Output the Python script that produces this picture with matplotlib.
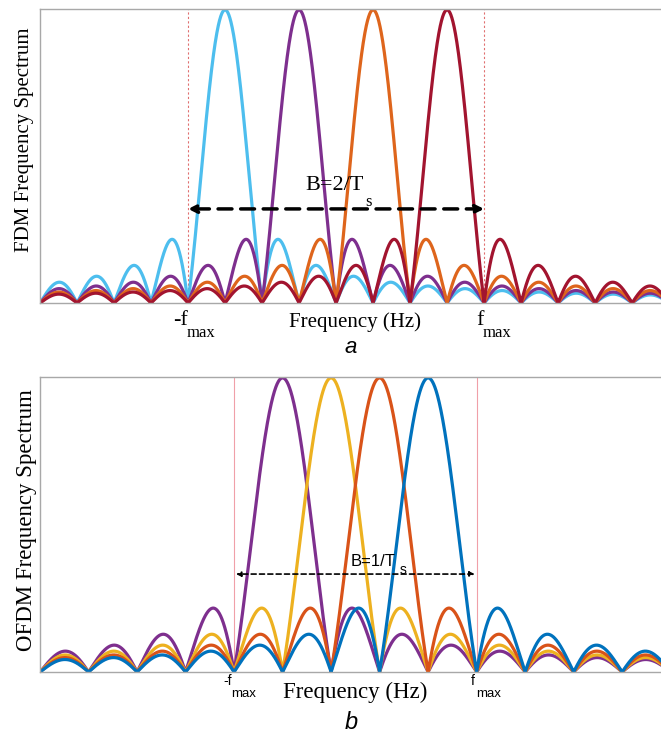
import numpy as np
import matplotlib
matplotlib.use("Agg")
from matplotlib import pyplot as plt
from matplotlib import transforms

# carrier centre frequencies, in units of 1/Ts
fdm_centers = [-3, -1, 1, 3]
fdm_colors = ['#4DBEEE', '#7E2F8E', '#DE651C', '#A2142F']
fdm_fmax = 4
fdm_xlim = (-8, 8.78)

ofdm_centers = [-1.5, -0.5, 0.5, 1.5]
ofdm_colors = ['#7E2F8E', '#EDB120', '#D95319', '#0072BD']
ofdm_fmax = 2.5
ofdm_xlim = (-6.5, 6.3)

W, H = 661, 733
fig = plt.figure(figsize=(W / 100, H / 100), dpi=100)

serif = 'Liberation Serif'
sans = 'Liberation Sans'
spine_c = '#a8a8a8'


def make_axes(top_px, bottom_px, xlim):
    ax = fig.add_axes([40 / W, 1 - bottom_px / H, 1 - 40 / W, (bottom_px - top_px) / H])
    ax.set_xlim(*xlim)
    ax.set_ylim(0, 1.003)
    ax.set_xticks([])
    ax.set_yticks([])
    for s in ['left', 'top', 'bottom']:
        ax.spines[s].set_color(spine_c)
        ax.spines[s].set_linewidth(1.0)
    ax.spines['right'].set_visible(False)
    return ax


# ---- panel a : FDM
ax1 = make_axes(9, 303, fdm_xlim)
tr1 = transforms.blended_transform_factory(ax1.transData, ax1.transAxes)
f = np.linspace(fdm_xlim[0], fdm_xlim[1], 3000)
for fc, c in zip(fdm_centers, fdm_colors):
    ax1.plot(f, np.abs(np.sinc(f - fc)), color=c, lw=2.3)
for x in (-fdm_fmax, fdm_fmax):
    ax1.axvline(x, color='#e07070', lw=0.8, ls=(0, (2, 2)), zorder=0)
ax1.annotate('', xy=(-fdm_fmax, 0.32), xytext=(fdm_fmax, 0.32), xycoords=tr1,
             arrowprops=dict(arrowstyle='<|-|>', color='black', lw=2.5,
                             ls=(0, (4, 2.5)), mutation_scale=12, shrinkA=0, shrinkB=0))
ax1.text(-0.84, 0.40, 'B=2/T', transform=tr1, fontsize=16, family=serif, ha='left', va='center')
ax1.text(0.78, 0.345, 's', transform=tr1, fontsize=12, family=serif, ha='left', va='center')
ax1.text(0.5, -0.065, 'Frequency (Hz)', transform=tr1, fontsize=15, family=serif,
         ha='center', va='center', clip_on=False)
ax1.text(-4.0, -0.058, '-f', transform=tr1, fontsize=16, family=serif, ha='right', va='center')
ax1.text(-4.05, -0.102, 'max', transform=tr1, fontsize=12, family=serif, ha='left', va='center')
ax1.text(3.9, -0.058, 'f', transform=tr1, fontsize=16, family=serif, ha='center', va='center')
ax1.text(3.97, -0.102, 'max', transform=tr1, fontsize=12, family=serif, ha='left', va='center')
ax1.text(0.4, -0.15, 'a', transform=tr1, fontsize=16, family=sans, style='italic',
         ha='center', va='center')
fig.text(25 / W, 1 - 140 / H, 'FDM Frequency Spectrum', rotation=90, fontsize=15,
         family=serif, ha='center', va='center')

# ---- panel b : OFDM
ax2 = make_axes(377, 672, ofdm_xlim)
tr2 = transforms.blended_transform_factory(ax2.transData, ax2.transAxes)
f = np.linspace(ofdm_xlim[0], ofdm_xlim[1], 3000)
for fc, c in zip(ofdm_centers, ofdm_colors):
    ax2.plot(f, np.abs(np.sinc(f - fc)), color=c, lw=2.3)
for x in (-ofdm_fmax, ofdm_fmax):
    ax2.axvline(x, color='#f0a0a8', lw=0.8, zorder=0)
ax2.annotate('', xy=(-ofdm_fmax + 0.04, 0.332), xytext=(ofdm_fmax - 0.04, 0.332), xycoords=tr2,
             arrowprops=dict(arrowstyle='<|-|>', color='black', lw=1.2,
                             ls=(0, (3, 2)), mutation_scale=7, shrinkA=0, shrinkB=0))
ax2.text(-0.10, 0.373, 'B=1/T', transform=tr2, fontsize=12, family=sans, ha='left', va='center')
ax2.text(0.92, 0.345, 's', transform=tr2, fontsize=10, family=sans, ha='left', va='center')
ax2.text(0.0, -0.068, 'Frequency (Hz)', transform=tr2, fontsize=16.5, family=serif,
         ha='center', va='center', clip_on=False)
ax2.text(-2.55, -0.03, '-f', transform=tr2, fontsize=10, family=sans, ha='right', va='center')
ax2.text(-2.55, -0.075, 'max', transform=tr2, fontsize=9.5, family=sans, ha='left', va='center')
ax2.text(2.42, -0.03, 'f', transform=tr2, fontsize=10, family=sans, ha='center', va='center')
ax2.text(2.5, -0.075, 'max', transform=tr2, fontsize=9.5, family=sans, ha='left', va='center')
ax2.text(-0.08, -0.17, 'b', transform=tr2, fontsize=17, family=sans, style='italic',
         ha='center', va='center')
fig.text(27 / W, 1 - 520 / H, 'OFDM Frequency Spectrum', rotation=90, fontsize=16.5,
         family=serif, ha='center', va='center')

fig.savefig('out.png', dpi=100)
